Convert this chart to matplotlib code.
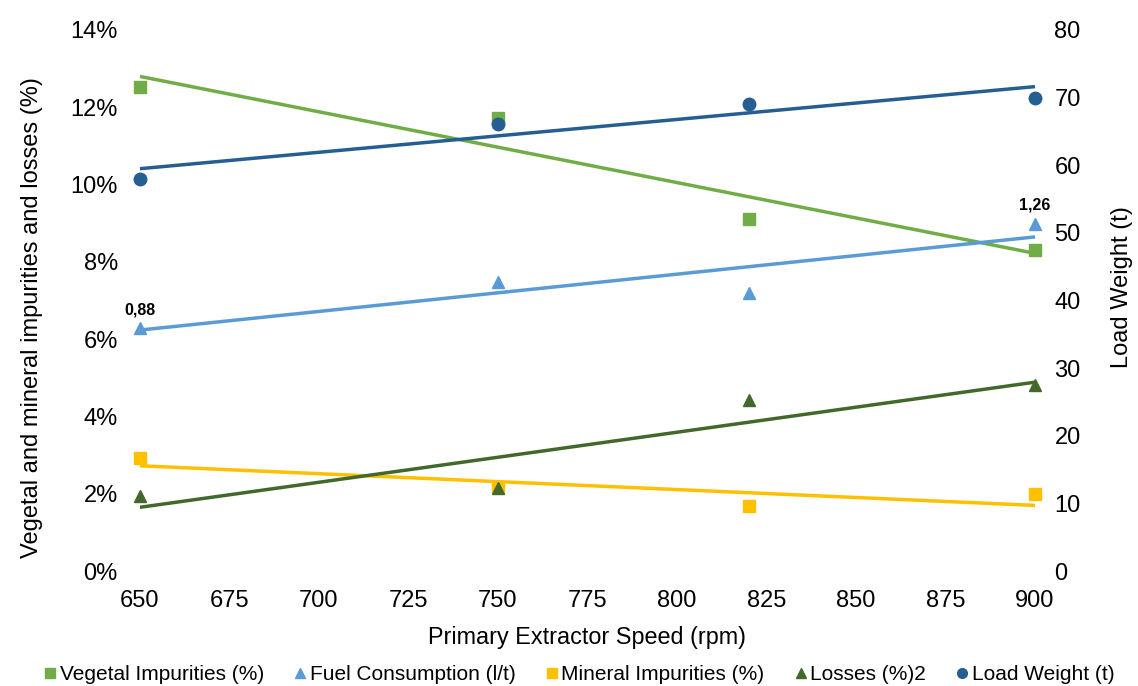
import matplotlib
matplotlib.use("Agg")
import matplotlib.pyplot as plt
import numpy as np
from matplotlib.lines import Line2D

plt.rcParams["font.family"] = ["Liberation Sans", "DejaVu Sans"]

# ---------------------------------------------------------------------------#
speed = [650, 750, 820, 900]

vegetal = [12.53, 11.72, 9.11, 8.31]      # %
mineral = [2.92, 2.17, 1.68, 1.99]        # %
losses = [1.94, 2.15, 4.43, 4.81]         # %
fuel = [0.88, 1.05, 1.01, 1.26]           # l/t
load_weight = [58.0, 66.1, 69.1, 70.0]    # t

fuel_labels = {0: "0,88", 3: "1,26"}

x_ticks = [650, 675, 700, 725, 750, 775, 800, 825, 850, 875, 900]
left_ticks = [0, 2, 4, 6, 8, 10, 12, 14]
right_ticks = [0, 10, 20, 30, 40, 50, 60, 70, 80]

c_veg = "#70AD47"
c_fuel = "#5B9BD5"
c_min = "#FFC000"
c_loss = "#43682B"
c_load = "#255E91"


def trend(ax, x, y, color):
    """least squares trendline across the speed range"""
    k, b = np.polyfit(x, y, 1)
    xs = np.array([x[0], x[-1]])
    ax.plot(xs, k * xs + b, color=color, linewidth=2.5, solid_capstyle="butt",
            clip_on=False)


fig = plt.figure(figsize=(11.38, 6.86), dpi=100)
ax = fig.add_axes([0.123, 0.1676, 0.7865, 0.7887])

# percentages on the left axis
ax.plot(speed, vegetal, "s", color=c_veg, ms=8, clip_on=False, zorder=3)
trend(ax, speed, vegetal, c_veg)
ax.plot(speed, mineral, "s", color=c_min, ms=8, clip_on=False, zorder=3)
trend(ax, speed, mineral, c_min)
ax.plot(speed, losses, "^", color=c_loss, ms=8, clip_on=False, zorder=4)
trend(ax, speed, losses, c_loss)

ax.set_xlim(650, 900)
ax.set_ylim(0, 14)
ax.set_xticks(x_ticks)
ax.set_yticks(left_ticks)
ax.set_yticklabels([f"{v}%" for v in left_ticks])
for s in ax.spines.values():
    s.set_visible(False)
ax.tick_params(axis="both", length=0, labelsize=17)
ax.tick_params(axis="x", pad=14)
ax.tick_params(axis="y", pad=16)

ax.set_xlabel("Primary Extractor Speed (rpm)", fontsize=16.8)
ax.xaxis.set_label_coords(0.5, -0.122)
ax.xaxis.label.set_va("center")
ax.set_ylabel("Vegetal and mineral impurities and losses (%)", fontsize=17)
ax.yaxis.set_label_coords(-0.121, 0.468)
ax.yaxis.label.set_va("center")

# fuel consumption on its own hidden scale
ax_fuel = ax.twinx()
ax_fuel.set_ylim(0, 1.963)
ax_fuel.axis("off")
ax_fuel.plot(speed, fuel, "^", color=c_fuel, ms=8.5, clip_on=False, zorder=3)
trend(ax_fuel, speed, fuel, c_fuel)
for i, txt in fuel_labels.items():
    ax_fuel.annotate(txt, (speed[i], fuel[i]), xytext=(0, 8),
                     textcoords="offset points", ha="center", va="bottom",
                     fontsize=11.5, fontweight="bold")

# load weight on the right axis
ax_r = ax.twinx()
ax_r.plot(speed, load_weight, "o", color=c_load, ms=9, clip_on=False, zorder=3)
trend(ax_r, speed, load_weight, c_load)
ax_r.set_ylim(0, 80)
ax_r.set_yticks(right_ticks)
for s in ax_r.spines.values():
    s.set_visible(False)
ax_r.tick_params(axis="y", length=0, labelsize=17, pad=14)
ax_r.set_ylabel("Load Weight (t)", fontsize=17, rotation=90)
ax_r.yaxis.set_label_coords(1.097, 0.525)
ax_r.yaxis.label.set_va("center")

handles = [
    Line2D([], [], ls="none", marker="s", color=c_veg, ms=7),
    Line2D([], [], ls="none", marker="^", color=c_fuel, ms=7),
    Line2D([], [], ls="none", marker="s", color=c_min, ms=7),
    Line2D([], [], ls="none", marker="^", color=c_loss, ms=7),
    Line2D([], [], ls="none", marker="o", color=c_load, ms=7),
]
labels = ["Vegetal Impurities (%)", "Fuel Consumption (l/t)",
          "Mineral Impurities (%)", "Losses (%)2", "Load Weight (t)"]
fig.legend(handles, labels, loc="center", bbox_to_anchor=(0.509, 1 - 675 / 686),
           ncol=5, frameon=False, fontsize=15, handlelength=0.6,
           handletextpad=0.15, columnspacing=1.45, borderaxespad=0)

fig.savefig("out.png", dpi=100)
